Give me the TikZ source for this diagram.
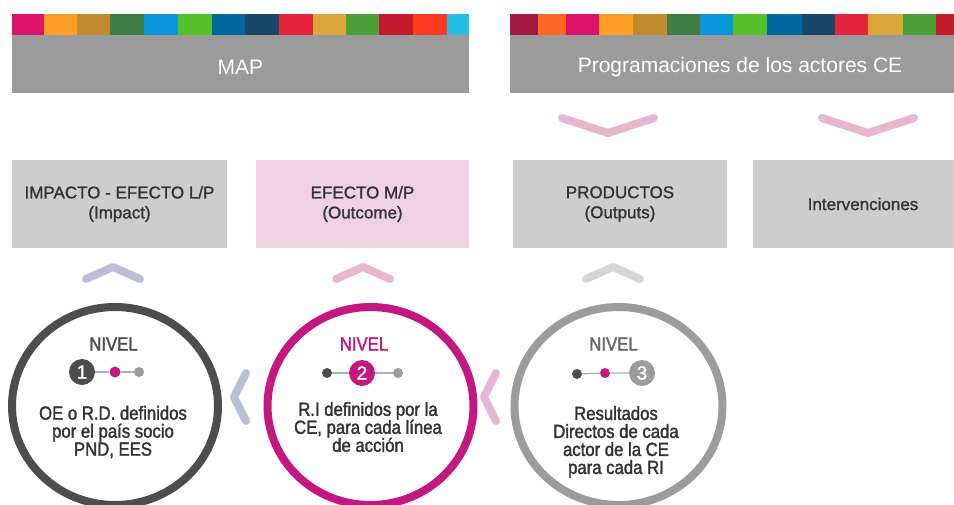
\documentclass[tikz,border=0pt]{standalone}
\usepackage{fontspec}
\setmainfont{Liberation Sans}
\newfontfamily\condfont[FakeStretch=0.88,FakeBold=1.8]{Liberation Sans}
\newfontfamily\medfont[FakeBold=1.2]{Liberation Sans}
\definecolor{hdr}{HTML}{9B9B9B}
\definecolor{boxg}{HTML}{CDCDCD}
\definecolor{boxp}{HTML}{F0D0E3}
\definecolor{txt}{HTML}{333333}
\definecolor{chpink}{HTML}{E8B6D2}
\definecolor{chblue}{HTML}{B7C0D5}
\definecolor{chgray}{HTML}{D6D6D6}
\definecolor{dkg}{HTML}{4D4D4D}
\definecolor{mag}{HTML}{C4177F}
\definecolor{mdg}{HTML}{9C9C9C}
\definecolor{sa}{HTML}{E5243B}
\definecolor{sb}{HTML}{DDA63A}
\definecolor{sc}{HTML}{4C9F38}
\definecolor{sd}{HTML}{C5192D}
\definecolor{se}{HTML}{FF3A21}
\definecolor{sf}{HTML}{26BDE2}
\definecolor{sh}{HTML}{A21942}
\definecolor{si}{HTML}{FD6925}
\definecolor{sj}{HTML}{DD1367}
\definecolor{sk}{HTML}{FD9D24}
\definecolor{sl}{HTML}{BF8B2E}
\definecolor{sm}{HTML}{3F7E44}
\definecolor{sn}{HTML}{0A97D9}
\definecolor{so}{HTML}{56C02B}
\definecolor{sp}{HTML}{00689D}
\definecolor{sq}{HTML}{19486A}
\tikzset{
  hdrtext/.style={text=white, font=\fontsize{21}{24}\selectfont, inner sep=0pt},
  midbox/.style={fill=boxg, minimum height=88pt, inner sep=0pt, text=txt, align=center,
    font=\medfont\fontsize{17}{20}\selectfont},
  chev/.style={line width=8pt, line cap=round, line join=round},
  ring/.style={line width=8pt},
  niveltext/.style={font=\condfont\fontsize{19}{20}\selectfont, inner sep=0pt},
  circtext/.style={font=\condfont\fontsize{19}{18}\selectfont, text=txt, align=center, inner sep=0pt},
  smalldot/.style={circle, minimum size=10pt, inner sep=0pt},
  bigdot/.style={circle, minimum size=26pt, inner sep=0pt, text=white, font=\medfont\fontsize{19}{19}\selectfont},
  dotline/.style={draw=mdg!80, line width=1.2pt}
}
\begin{document}
\begin{tikzpicture}[x=1pt, y=-1pt]
\useasboundingbox (0,0) rectangle (954,504);
\clip (0,0) rectangle (954,504);
% ---------- header bars ----------
\fill[hdr] (12,35) rectangle (469,93);
\foreach \a/\b/\c in {12/43.7/sj, 43.7/77.3/sk, 77.3/110.3/sl, 110.3/144/sm, 144/178.3/sn,
  178.3/211.7/so, 211.7/245/sp, 245/279.3/sq, 279.3/312.7/sa, 312.7/346/sb, 346/379.3/sc,
  379.3/413.3/sd, 413.3/446.7/se, 446.7/469/sf}
  \fill[\c] (\a,14) rectangle (\b,35);
\node[hdrtext] (map) at (240.5,67.5) {MAP};
\fill[hdr] (510,35) rectangle (970,93);
\foreach \a/\b/\c in {510/538.3/sh, 538.3/566/si, 566/599.3/sj, 599.3/632.7/sk, 632.7/666.7/sl,
  666.7/700/sm, 700/733.3/sn, 733.3/767.3/so, 767.3/801.7/sp, 801.7/835/sq, 835/868.3/sa,
  868.3/902.7/sb, 902.7/936/sc, 936/970/sd}
  \fill[\c] (\a,14) rectangle (\b,35);
\node[hdrtext] (prog) at (740,67.5) {Programaciones de los actores CE};
% ---------- down chevrons ----------
\draw[chev, chpink] (562,118) -- (608,133) -- (654,118);
\draw[chev, chpink] (822,118) -- (868,133) -- (914,118);
% ---------- middle boxes ----------
\node[midbox, minimum width=215pt] (imp) at (119.5,204) {IMPACTO - EFECTO L/P\\(Impact)};
\node[midbox, fill=boxp, minimum width=213pt] (efe) at (362.5,204) {EFECTO M/P\\(Outcome)};
\node[midbox, minimum width=214pt] (prod) at (620,204) {PRODUCTOS\\(Outputs)};
\node[midbox, minimum width=214pt] (inter) at (860,204) {\hspace*{6pt}Intervenciones};
% ---------- up chevrons ----------
\draw[chev, chblue] (86,279) -- (113,267) -- (140,279);
\draw[chev, chpink] (336,279) -- (363,267) -- (390,279);
\draw[chev, chgray] (586,279) -- (613,267) -- (640,279);
% ---------- left chevrons ----------
\draw[chev, chblue] (246,373) -- (234,397) -- (246,421);
\draw[chev, chpink] (496,373) -- (484,397) -- (496,421);
% ---------- circles ----------
\coordinate (c1) at (115,406);
\coordinate (c2) at (370.5,406);
\coordinate (c3) at (618.5,406);
\draw[ring, dkg] (c1) ellipse [x radius=103pt, y radius=99pt];
\draw[ring, mag] (c2) ellipse [x radius=103pt, y radius=99pt];
\draw[ring, mdg] (c3) ellipse [x radius=104pt, y radius=99pt];
% ---------- circle 1 ----------
\node[niveltext, text=dkg] (n1) at (113.5,344) {NIVEL};
\node[bigdot, fill=dkg] (a1) at (82,372) {1};
\node[smalldot, fill=mag, minimum size=11pt] (b1) at (115,372) {};
\node[smalldot, fill=mdg] (d1) at (139,372) {};
\draw[dotline] (a1) -- (b1) (b1) -- (d1);
\node[circtext] (t1) at (113,432) {OE o R.D. definidos\\por el país socio\\PND, EES};
% ---------- circle 2 ----------
\node[niveltext, text=mag] (n2) at (364,344) {NIVEL};
\node[smalldot, fill=dkg] (a2) at (327,373) {};
\node[bigdot, fill=mag] (b2) at (362,373) {2};
\node[smalldot, fill=mdg] (d2) at (398,373) {};
\draw[dotline] (a2) -- (b2) (b2) -- (d2);
\node[circtext] (t2) at (368,427) {R.I definidos por la\\CE, para cada línea\\de acción};
% ---------- circle 3 ----------
\node[niveltext, text=dkg!85] (n3) at (613.5,344) {NIVEL};
\node[smalldot, fill=dkg] (a3) at (577,374) {};
\node[smalldot, fill=mag] (b3) at (605,373) {};
\node[bigdot, fill=mdg] (d3) at (642,373) {3};
\draw[dotline] (a3) -- (b3) (b3) -- (d3);
\node[circtext] (t3) at (616,442) {Resultados\\Directos de cada\\actor de la CE\\para cada RI};
\end{tikzpicture}
\end{document}
